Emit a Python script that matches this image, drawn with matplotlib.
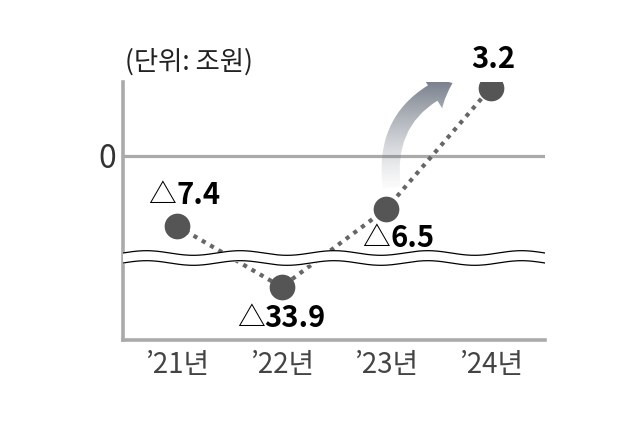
import numpy as np
import matplotlib
matplotlib.use("Agg")
import matplotlib.pyplot as plt
from matplotlib.patches import FancyArrowPatch

plt.rcParams['font.family'] = ['Noto Sans CJK KR', 'DejaVu Sans']

years = ["’21년", "’22년", "’23년", "’24년"]
values = [-7.4, -33.9, -6.5, 3.2]   # 조원
unit_text = "(단위: 조원)"

# broken (illustrative) y axis: value -> height in px above the bottom spine
knot_val = [-60.0, -33.9, -7.4, -6.5, 0.0, 3.2, 3.5]
knot_pos = [-10.0, 53.0, 114.0, 131.0, 184.0, 252.0, 258.0]

def fwd(v):
    return np.interp(v, knot_val, knot_pos)

def inv(p):
    return np.interp(p, knot_pos, knot_val)

# label offsets in pixels (x, y) from each point
label_off = [(-1, 31), (-17, -31), (4, -29), (3, 29)]

fig = plt.figure(figsize=(6.43, 4.24), dpi=100)
ax = fig.add_axes([123 / 643, 1 - 340 / 424, 422 / 643, 258 / 424])
ax.set_yscale('function', functions=(fwd, inv))
ax.set_ylim(inv(0), inv(258))
ax.set_xlim(-0.517, 3.52)

grey = '#aaaaaa'
for s in ['top', 'right']:
    ax.spines[s].set_visible(False)
for s in ['left', 'bottom']:
    ax.spines[s].set_color(grey)
    ax.spines[s].set_linewidth(2.6)
ax.axhline(0, color=grey, lw=2.3, zorder=1)

ax.set_yticks([0])
ax.set_yticklabels(['0'], fontsize=23, color='#333333')
ax.set_xticks(range(len(years)))
ax.set_xticklabels(years, fontsize=20, color='#444444')
ax.tick_params(length=0)
ax.tick_params(axis='y', pad=5)
ax.tick_params(axis='x', pad=7)

x = np.arange(len(values))
ax.plot(x, values, color='#666666', lw=3, linestyle=(0, (1, 1.3)),
        dash_capstyle='butt', zorder=2)

# wavy break
xs = np.linspace(0, 1, 400)
wave = 0.009 * np.sin(2 * np.pi * xs * 4.5)
y_top, y_bot = 87 / 258, 77 / 258
ax.fill_between(xs, y_bot + wave, y_top + wave, color='white',
                transform=ax.transAxes, zorder=3)
ax.plot(xs, y_top + wave, color='black', lw=0.9, transform=ax.transAxes, zorder=3)
ax.plot(xs, y_bot + wave, color='black', lw=0.9, transform=ax.transAxes, zorder=3)

ax.plot(x, values, 'o', color='#555555', ms=17.5, zorder=4)

# gradient arrow
arrow = FancyArrowPatch((0.638, 0.58), (0.787, 1.0), transform=ax.transAxes,
                        connectionstyle='arc3,rad=-0.4',
                        arrowstyle='simple,head_length=16,head_width=26,tail_width=13',
                        mutation_scale=1.0, color='none', lw=0)
arrow.set_clip_on(False)
ax.add_patch(arrow)
grad = np.zeros((100, 2, 4))
grad[..., 0] = 0x66 / 255
grad[..., 1] = 0x6e / 255
grad[..., 2] = 0x7c / 255
grad[..., 3] = np.linspace(0, 0.95, 100)[:, None] ** 1.4
img = ax.imshow(grad, extent=(0.6, 0.82, 0.55, 1.02), transform=ax.transAxes,
                origin='lower', aspect='auto', zorder=2.5, interpolation='bilinear')
img.set_clip_path(arrow)
img.set_clip_on(True)

for xi, v, (dx, dy) in zip(x, values, label_off):
    num = f"{abs(v):.1f}"
    ax.annotate(num, (xi, v), xytext=(dx, dy), textcoords='offset pixels',
                ha='left' if v < 0 else 'center', va='center',
                fontsize=21, fontweight='bold', color='black', zorder=5)
    if v < 0:
        ax.annotate("△", (xi, v), xytext=(dx, dy), textcoords='offset pixels',
                    ha='right', va='center', fontsize=20, color='black', zorder=5)

fig.text(125 / 643, 1 - 62 / 424, unit_text, fontsize=19, color='#222222',
         ha='left', va='center')

fig.savefig('out.png', dpi=100)
